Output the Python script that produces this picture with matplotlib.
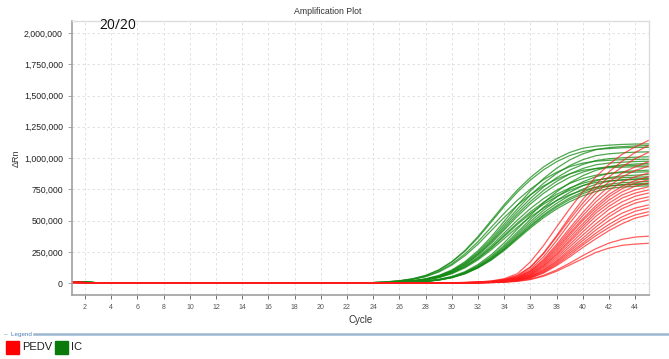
import numpy as np
import matplotlib
matplotlib.use("Agg")
import matplotlib.pyplot as plt
from matplotlib.patches import Rectangle
from matplotlib.lines import Line2D
from matplotlib.ticker import FuncFormatter

plt.rcParams['font.family'] = ['Liberation Sans', 'DejaVu Sans']

# cycles 1..45 ; values in thousands of delta Rn
cycles = list(range(1, 46))

# baseline part (cycles 1..23), shared within each group
ic_base = [8, 6, 3, 1, 0, 0, 0, 0, 0, 0, 0, 0, 0, 0, 0, 0, 0, 0, 0, 0, 0, 0, 0]
pedv_base = [5, 4, 2, 1, 0, 0, 0, 0, 0, 0, 0, 0, 0, 0, 0, 0, 0, 0, 0, 0, 0, 0, 0]

# cycles 24..45, internal control curves
ic_curves = [
    [4, 10, 19, 34, 61, 106, 172, 261, 373, 500, 628, 745, 845, 929, 995, 1045, 1079, 1095, 1103, 1109, 1112, 1113],
    [2, 4, 10, 19, 34, 61, 105, 171, 259, 369, 495, 622, 737, 836, 919, 985, 1034, 1067, 1084, 1091, 1097, 1100],
    [4, 10, 18, 34, 60, 103, 168, 255, 363, 488, 613, 727, 825, 906, 971, 1020, 1052, 1069, 1076, 1082, 1085, 1085],
    [2, 4, 9, 18, 33, 58, 100, 163, 247, 352, 473, 593, 704, 798, 877, 940, 987, 1019, 1034, 1042, 1047, 1050],
    [2, 4, 9, 17, 31, 56, 96, 157, 237, 338, 455, 571, 677, 768, 843, 904, 949, 980, 995, 1002, 1007, 1010],
    [4, 9, 17, 31, 54, 94, 153, 233, 332, 446, 559, 663, 752, 827, 886, 931, 960, 975, 982, 987, 990, 990],
    [2, 4, 9, 17, 30, 54, 93, 151, 229, 327, 439, 551, 653, 741, 814, 873, 917, 946, 960, 967, 972, 975],
    [1, 2, 4, 9, 16, 30, 53, 91, 149, 226, 322, 432, 542, 643, 730, 802, 859, 902, 931, 946, 952, 958],
    [2, 4, 9, 16, 29, 52, 90, 146, 222, 317, 425, 534, 633, 718, 789, 846, 888, 917, 931, 937, 942, 945],
    [4, 8, 16, 29, 51, 88, 144, 219, 312, 419, 525, 623, 707, 777, 832, 874, 902, 916, 923, 927, 930, 930],
    [1, 2, 4, 8, 15, 28, 50, 86, 140, 213, 303, 407, 511, 606, 688, 756, 810, 851, 878, 891, 898, 903],
    [2, 4, 8, 15, 28, 49, 85, 138, 209, 298, 401, 503, 596, 676, 743, 797, 837, 863, 877, 883, 887, 890],
    [1, 2, 3, 8, 15, 27, 48, 83, 135, 204, 291, 392, 492, 583, 661, 726, 779, 818, 844, 857, 863, 868],
    [2, 3, 8, 14, 26, 47, 81, 132, 200, 285, 383, 480, 570, 646, 710, 761, 799, 825, 837, 843, 847, 850],
    [1, 2, 3, 8, 14, 26, 46, 80, 130, 197, 281, 378, 475, 563, 638, 701, 752, 790, 815, 827, 833, 838],
    [2, 3, 7, 14, 26, 46, 79, 129, 195, 278, 374, 469, 556, 631, 693, 743, 780, 805, 818, 823, 828, 830],
    [1, 2, 3, 7, 14, 25, 45, 77, 126, 192, 273, 367, 460, 546, 619, 681, 729, 766, 791, 803, 808, 813],
    [1, 2, 3, 7, 14, 25, 44, 76, 124, 188, 268, 360, 452, 536, 608, 668, 716, 752, 776, 788, 794, 798],
    [2, 3, 7, 13, 24, 43, 75, 122, 186, 265, 356, 446, 529, 600, 660, 707, 743, 766, 778, 784, 788, 790],
    [1, 2, 3, 7, 13, 24, 43, 74, 121, 183, 261, 351, 441, 523, 593, 651, 698, 733, 757, 768, 774, 778],
]

# cycles 24..45, PEDV curves
pedv_curves = [
    [0, 0, 0, 1, 1, 2, 3, 5, 9, 17, 35, 75, 170, 300, 450, 595, 730, 850, 950, 1030, 1090, 1140],
    [0, 0, 0, 1, 1, 2, 3, 5, 8, 15, 30, 62, 130, 240, 380, 530, 670, 790, 890, 975, 1045, 1100],
    [0, 0, 0, 0, 1, 1, 2, 4, 7, 13, 27, 58, 125, 235, 370, 510, 640, 755, 850, 930, 995, 1045],
    [0, 0, 0, 0, 1, 1, 2, 4, 7, 12, 25, 52, 110, 210, 340, 480, 610, 720, 810, 880, 930, 970],
    [0, 0, 0, 0, 1, 1, 2, 3, 6, 11, 22, 46, 98, 190, 310, 440, 565, 680, 775, 850, 900, 935],
    [0, 0, 0, 0, 1, 1, 2, 3, 6, 11, 22, 45, 95, 180, 295, 420, 540, 650, 740, 810, 850, 880],
    [0, 0, 0, 0, 1, 1, 2, 3, 5, 10, 20, 42, 90, 170, 280, 400, 515, 620, 710, 775, 820, 850],
    [0, 0, 0, 0, 0, 1, 2, 3, 5, 9, 18, 38, 82, 160, 265, 385, 500, 600, 690, 755, 800, 825],
    [0, 0, 0, 0, 0, 1, 1, 3, 5, 9, 18, 36, 78, 150, 250, 365, 475, 580, 665, 730, 775, 800],
    [0, 0, 0, 0, 0, 1, 1, 2, 4, 8, 16, 33, 70, 140, 235, 345, 455, 560, 640, 705, 745, 770],
    [0, 0, 0, 0, 0, 1, 1, 2, 4, 8, 16, 32, 68, 135, 225, 330, 435, 535, 615, 680, 720, 745],
    [0, 0, 0, 0, 0, 1, 1, 2, 4, 7, 14, 29, 62, 125, 210, 310, 410, 505, 590, 650, 695, 720],
    [0, 0, 0, 0, 0, 1, 1, 2, 4, 7, 14, 28, 58, 115, 195, 290, 385, 475, 555, 620, 665, 690],
    [0, 0, 0, 0, 0, 0, 1, 2, 3, 6, 12, 25, 52, 105, 180, 270, 360, 450, 530, 595, 640, 665],
    [0, 0, 0, 0, 0, 0, 1, 2, 3, 6, 12, 24, 50, 100, 170, 255, 340, 425, 500, 560, 600, 625],
    [0, 0, 0, 0, 0, 0, 1, 2, 3, 6, 11, 22, 46, 92, 160, 240, 320, 400, 470, 530, 575, 600],
    [0, 0, 0, 0, 0, 0, 1, 1, 3, 5, 10, 20, 42, 85, 150, 225, 305, 380, 445, 505, 545, 570],
    [0, 0, 0, 0, 0, 0, 1, 1, 3, 5, 10, 19, 40, 80, 140, 210, 285, 355, 420, 475, 520, 545],
    [0, 0, 0, 0, 0, 0, 1, 1, 2, 4, 8, 16, 32, 62, 105, 160, 220, 275, 320, 350, 368, 375],
    [0, 0, 0, 0, 0, 0, 1, 1, 2, 4, 7, 14, 28, 55, 95, 145, 195, 245, 280, 302, 312, 318],
]

xticks = list(range(2, 46, 2))
yticks = [0, 250000, 500000, 750000, 1000000, 1250000, 1500000, 1750000, 2000000]

green = '#138a13'
red = '#ff1a1a'

fig = plt.figure(figsize=(6.69, 3.59), dpi=100)
ax = fig.add_axes([0.1076, 0.178, 0.8625, 0.7635])

for c in ic_curves:
    y = np.array(ic_base + c) * 1000
    ax.plot(cycles, y, color=green, lw=0.9, alpha=0.75)
for c in pedv_curves:
    y = np.array(pedv_base + c) * 1000
    ax.plot(cycles, y, color=red, lw=0.9, alpha=0.7)

ax.set_xlim(1, 45.05)
ax.set_ylim(-96000, 2096000)
ax.set_xticks(xticks)
ax.set_yticks(yticks)
ax.yaxis.set_major_formatter(FuncFormatter(lambda v, p: f'{int(v):,}'))
ax.grid(True, color='#dddddd', ls=(0, (3, 3)), lw=0.6)
ax.tick_params(axis='x', labelsize=5, colors='#555555', length=3, width=0.6)
ax.tick_params(axis='y', labelsize=6.3, labelcolor='#222222', color='#999999', length=3, width=0.6)
for s in ['left', 'bottom']:
    ax.spines[s].set_color('#a0a0a0')
    ax.spines[s].set_linewidth(1.2)
for s in ['top', 'right']:
    ax.spines[s].set_color('#dcdcdc')
    ax.spines[s].set_linewidth(1.0)

ax.set_xlabel('Cycle', fontsize=7, color='#333333', labelpad=3)
ax.set_ylabel('ΔRn', fontsize=6.5, color='#333333', labelpad=2)
fig.text(0.49, 0.967, 'Amplification Plot', ha='center', va='center', fontsize=6.3, color='#333333')
fig.text(0.149, 0.93, '20/20', ha='left', va='center', fontsize=10, family='Open Sans', color='#111111')

# legend strip
fig.text(0.006, 0.069, '–  Legend', ha='left', va='center', fontsize=4.5, color='#4a7fb5')
fig.add_artist(Line2D([0.051, 1.0], [0.069, 0.069], transform=fig.transFigure, color='#9bb7d0', lw=1.8))
fig.add_artist(Rectangle((6 / 669, 5 / 359), 13 / 669, 13 / 359, transform=fig.transFigure, color='#ff0000'))
fig.text(22 / 669, 11.5 / 359, 'PEDV', ha='left', va='center', fontsize=8, color='#222222')
fig.add_artist(Rectangle((55 / 669, 5 / 359), 13 / 669, 13 / 359, transform=fig.transFigure, color='#0a7a0a'))
fig.text(71 / 669, 11.5 / 359, 'IC', ha='left', va='center', fontsize=8, color='#222222')

fig.savefig('out.png', dpi=100)
